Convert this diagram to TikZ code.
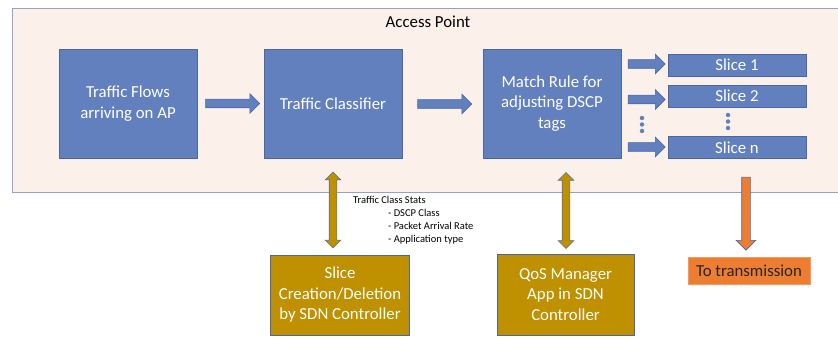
\documentclass[tikz,border=0pt]{standalone}
\usepackage{fontspec}
\setmainfont{Carlito}
\usetikzlibrary{shapes.arrows,calc}
\definecolor{apfill}{RGB}{251,241,234}
\definecolor{apline}{RGB}{142,163,208}
\definecolor{boxblue}{RGB}{99,128,190}
\definecolor{lineblue}{RGB}{72,102,170}
\definecolor{gold}{RGB}{191,144,0}
\definecolor{orng}{RGB}{237,125,49}
\definecolor{orngline}{RGB}{245,150,90}
\begin{document}
\begin{tikzpicture}[x=1pt,y=-1pt,
  big/.style={font=\fontsize{16.8}{20.5}\selectfont},
  bluebox/.style={draw=lineblue,fill=boxblue,line width=0.8pt,text=white,align=center,big,inner sep=0pt},
  goldbox/.style={draw=lineblue,fill=gold,line width=0.8pt,text=white,align=center,big,inner sep=0pt,minimum width=139pt,minimum height=80pt},
  rarrow/.style={single arrow,draw=lineblue,fill=boxblue,line width=0.6pt,inner sep=4pt,single arrow head extend=5.5pt,single arrow head indent=0pt,minimum height=#1},
  darrow/.style={double arrow,draw=lineblue!70!gray,fill=gold,line width=0.6pt,inner sep=3.5pt,double arrow head extend=4pt,double arrow head indent=0pt,minimum height=76pt,rotate=90},
  dotc/.style={fill=boxblue,draw=none,circle,minimum size=4.5pt,inner sep=0pt}]
\useasboundingbox (0,0) rectangle (838,339);
\fill[white] (0,0) rectangle (838,339);
% Access point frame
\draw[apline,fill=apfill,line width=0.8pt] (12,8) rectangle (860,192);
\node[big] (ap) at (428,22) {Access Point};
% main boxes
\node[bluebox,minimum width=138pt,minimum height=109pt] (tf) at (128,103.5) {Traffic Flows\\arriving on AP};
\node[bluebox,minimum width=138pt,minimum height=109pt] (tc) at (333,103.5) {Traffic Classifier};
\node[bluebox,minimum width=138pt,minimum height=109pt] (mr) at (552,103.5) {Match Rule for\\adjusting DSCP\\tags};
% slices
\node[bluebox,minimum width=138pt,minimum height=22pt] (s1) at (737,65) {Slice 1};
\node[bluebox,minimum width=138pt,minimum height=22pt] (s2) at (737,96) {Slice 2};
\node[bluebox,minimum width=138pt,minimum height=22pt] (sn) at (737,147.5) {Slice n};
% arrows in AP
\node[rarrow=54pt] (a1) at ($(tf.east)!0.5!(tc.west)$) {};
\node[rarrow=54pt] (a2) at ($(tc.east)!0.5!(mr.west)+(0,0.5)$) {};
\node[rarrow=37pt] (b1) at (644.5,64) {};
\node[rarrow=37pt] (b2) at (644.5,99.5) {};
\node[rarrow=37pt] (bn) at (644.5,147) {};
% dots
\node[dotc] (l1) at (642,118) {};
\node[dotc] (l2) at (642,124.5) {};
\node[dotc] (l3) at (642,131) {};
\node[dotc] (r1) at (728,115) {};
\node[dotc] (r2) at (728,121.5) {};
\node[dotc] (r3) at (728,128) {};
% lower boxes
\node[goldbox] (sc) at (340,295) {Slice\\Creation/Deletion\\by SDN Controller};
\node[goldbox,minimum width=137pt,minimum height=81pt] (qm) at (565.5,294.5) {QoS Manager\\App in SDN\\Controller};
\node[draw=orngline,fill=orng,line width=0.8pt,big,text=black!85,minimum width=122pt,minimum height=27pt,inner sep=0pt] (tx) at (749,270.5) {To transmission};
% vertical arrows
\node[darrow] (d1) at (333,210) {};
\node[darrow] (d2) at (566,210.5) {};
\node[single arrow,draw=lineblue,fill=orng,line width=0.6pt,inner sep=4pt,single arrow head extend=5.5pt,single arrow head indent=0pt,minimum height=73pt,rotate=-90] (od) at (746,211.5) {};
% stats text
\node[anchor=north west,align=left,font=\fontsize{10.5}{13}\selectfont,inner sep=0pt] (st) at (353,196) {Traffic Class Stats\\\hspace*{35pt}- DSCP Class\\\hspace*{35pt}- Packet Arrival Rate\\\hspace*{35pt}- Application type};
\end{tikzpicture}
\end{document}
